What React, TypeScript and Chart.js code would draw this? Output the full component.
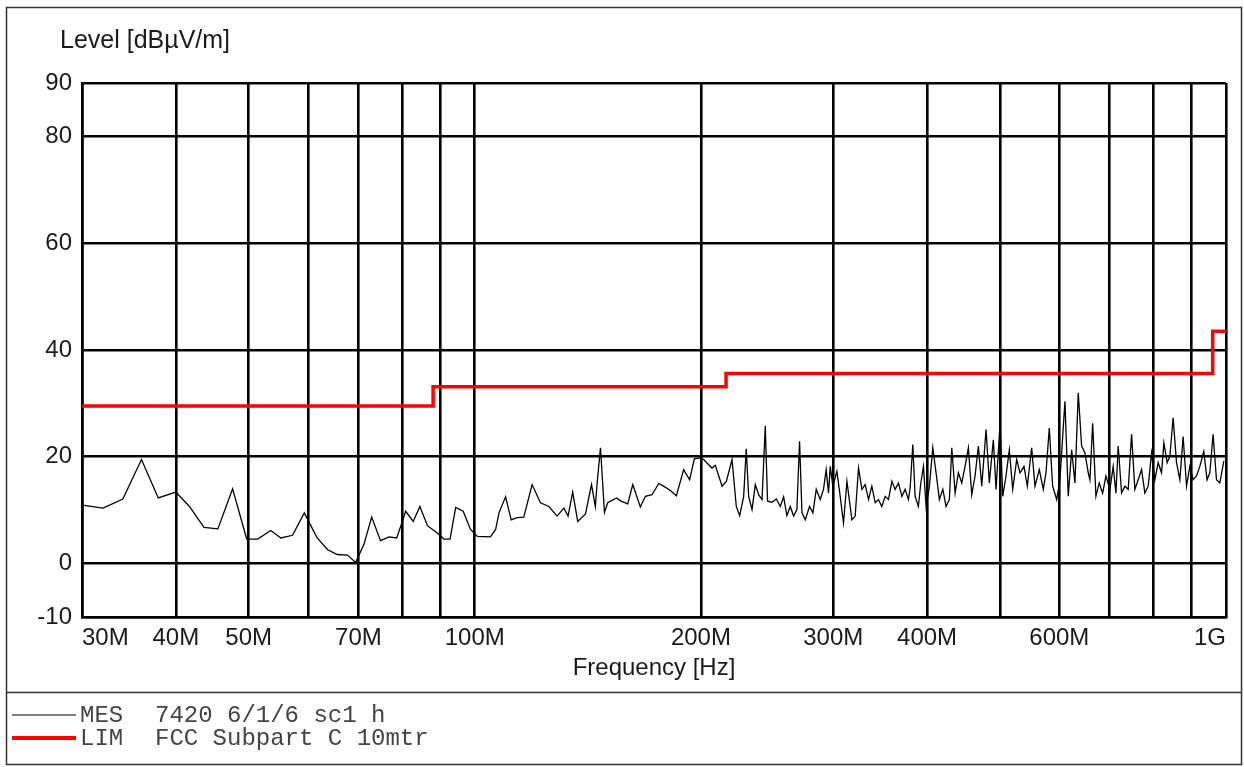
import React, { useEffect, useRef } from 'react';
import { Chart, registerables } from 'chart.js';

Chart.register(...registerables);

// ---- data (frequency in MHz, level in dBµV/m) ----
const mesFreqMHz = [
  30.2, 32.0, 34.0, 36.0, 37.9, 40.0, 41.7, 43.6, 45.5, 47.6, 49.7, 51.4, 53.5, 55.2, 57.2, 59.3,
  60.8, 61.7, 63.7, 65.6, 67.7, 69.4, 71.2, 72.9, 74.9, 76.9, 78.7, 80.1, 80.9, 82.8, 84.5, 86.5,
  89.2, 91.0, 92.7, 94.3, 96.5, 98.7, 100.8, 104.9, 106.6, 107.7, 109.9, 111.8, 113.9, 116.2, 119.2,
  122.3, 125.5, 128.7, 131.4, 133.1, 135.0, 137.1, 140.4, 143.0, 144.7, 145.5, 147.0, 148.8, 150.3,
  154.4, 156.6, 159.8, 162.3, 166.1, 168.7, 172.2, 175.7, 178.4, 182.1, 185.5, 189.7, 193.2, 196.0,
  199.7, 201.7, 204.8, 206.9, 209.0, 213.4, 216.2, 220.0, 222.9, 225.2, 228.0, 229.8, 231.5, 233.9,
  236.3, 238.7, 241.2, 243.6, 245.3, 248.7, 252.0, 255.1, 257.7, 260.3, 263.0, 265.7, 268.4, 270.6,
  272.6, 275.4, 279.0, 281.9, 284.8, 288.3, 291.2, 293.6, 295.7, 297.3, 299.7, 303.4, 306.5, 309.6,
  312.9, 317.7, 320.9, 324.2, 327.6, 330.9, 334.3, 337.7, 341.2, 344.6, 348.2, 351.8, 355.4, 359.1,
  362.7, 366.4, 370.3, 374.0, 377.8, 379.8, 382.9, 385.6, 389.5, 392.4, 395.6, 398.8, 402.9, 407.1,
  411.2, 415.4, 419.8, 424.0, 428.3, 431.5, 435.9, 440.3, 444.9, 449.4, 454.0, 458.7, 463.4, 468.1,
  473.0, 479.3, 484.1, 490.1, 494.2, 500.3, 504.4, 509.5, 514.7, 520.1, 526.5, 531.8, 538.4, 543.9,
  551.2, 556.8, 564.2, 571.2, 575.9, 581.8, 587.8, 595.1, 601.1, 610.4, 616.6, 623.1, 629.4, 635.8,
  642.4, 649.0, 655.6, 659.0, 664.5, 671.2, 678.0, 685.1, 692.1, 700.6, 707.7, 713.6, 718.6, 726.1,
  733.5, 741.0, 748.7, 756.3, 764.0, 772.0, 779.8, 787.8, 796.0, 804.1, 812.3, 820.7, 826.6, 835.0,
  841.9, 850.4, 859.3, 868.1, 876.9, 886.1, 895.0, 904.1, 913.6, 922.9, 934.2, 943.7, 951.6, 961.2,
  971.3, 981.2, 993.3,
];
const mesLevel = [
  10.9, 10.4, 12.1, 19.5, 12.3, 13.4, 10.7, 6.8, 6.5, 14.0, 4.6, 4.6, 6.2, 4.8, 5.3, 9.5,
  6.5, 4.8, 2.6, 1.7, 1.6, 0.2, 3.6, 8.7, 4.3, 5.0, 4.8, 7.9, 9.8, 7.9, 10.7, 7.1,
  5.7, 4.6, 4.6, 10.5, 9.8, 6.4, 5.1, 5.0, 6.4, 9.5, 12.5, 8.2, 8.6, 8.7, 14.8,
  11.4, 10.7, 8.9, 10.4, 8.9, 13.4, 7.9, 9.3, 14.8, 10.7, 15.1, 21.7, 9.6, 11.4,
  12.3, 11.7, 11.2, 14.8, 10.6, 12.6, 12.9, 15.0, 14.5, 13.7, 12.7, 17.6, 15.7, 19.6,
  19.8, 19.5, 18.5, 17.9, 18.4, 14.5, 15.4, 19.5, 10.7, 9.0, 12.6, 21.5, 12.6, 10.1,
  14.8, 12.9, 12.0, 25.8, 11.7, 11.5, 12.1, 10.7, 12.5, 9.0, 10.7, 8.9, 10.1, 22.9,
  9.5, 8.2, 10.7, 9.5, 13.9, 12.0, 13.9, 17.6, 13.2, 18.2, 14.5, 17.3, 12.6, 7.6,
  15.4, 8.2, 8.9, 17.9, 13.9, 14.8, 12.0, 14.5, 11.4, 12.0, 10.7, 12.6, 12.0, 15.4,
  13.9, 15.1, 12.6, 13.9, 12.0, 14.2, 22.3, 12.6, 10.7, 15.1, 18.2, 10.7, 14.5, 21.7,
  17.0, 12.0, 13.9, 10.7, 12.0, 21.7, 13.2, 17.0, 15.1, 18.2, 21.7, 12.9, 16.4, 22.0,
  14.5, 25.1, 15.1, 23.2, 13.9, 26.3, 12.6, 16.4, 21.3, 13.9, 19.5, 17.0, 18.2, 14.5,
  21.7, 14.5, 17.6, 13.9, 17.0, 25.4, 14.5, 12.0, 15.7, 30.4, 12.6, 21.3, 15.1, 32.0,
  22.0, 20.7, 17.0, 15.7, 26.3, 12.6, 15.1, 13.2, 16.4, 13.9, 18.2, 13.2, 22.0, 13.2,
  14.5, 13.9, 24.2, 13.9, 15.7, 17.6, 13.2, 14.5, 20.7, 15.7, 18.9, 17.0, 22.6, 18.9,
  20.1, 27.3, 18.9, 15.7, 23.8, 14.5, 18.2, 15.7, 16.4, 18.2, 21.0, 15.7, 17.0, 24.2,
  15.7, 15.1, 19.2,
];
const limFreqMHz = [30, 88, 216, 960, 1000];
const limLevel = [29.5, 33.1, 35.6, 43.5, 43.5];

const xTickValues = [30, 40, 50, 60, 70, 80, 90, 100, 200, 300, 400, 500, 600, 700, 800, 900, 1000];
const xTickLabels = ['30M', '40M', '50M', '', '70M', '', '', '100M', '200M', '300M', '400M', '', '600M', '', '', '', '1G'];
const yTickValues = [-10, 0, 20, 40, 60, 80, 90];

const yAxisTitle = 'Level [dBµV/m]';
const xAxisTitle = 'Frequency [Hz]';
const legendKeys = ['MES', 'LIM'];
const legendTexts = ['7420 6/1/6 sc1 h', 'FCC Subpart C 10mtr'];
const legendColors = ['#000000', '#ff0000'];
const legendWidths = [1, 4];

const SANS = '"Liberation Sans", Arial, sans-serif';
const MONO = '"Liberation Mono", "DejaVu Sans Mono", monospace';

const framePlugin = {
  id: 'frameAndLegend',
  afterDraw(chart: any) {
    const ctx = chart.ctx as CanvasRenderingContext2D;
    ctx.save();
    // outer frame and divider
    ctx.strokeStyle = '#333';
    ctx.lineWidth = 1.5;
    ctx.strokeRect(6.5, 7.5, 1235, 757);
    ctx.beginPath();
    ctx.moveTo(6.5, 692.5);
    ctx.lineTo(1241.5, 692.5);
    ctx.stroke();
    // y axis title
    ctx.fillStyle = '#1a1a1a';
    ctx.font = `25px ${SANS}`;
    ctx.textAlign = 'left';
    ctx.textBaseline = 'alphabetic';
    ctx.fillText(yAxisTitle, 60, 48);
    // legend
    legendKeys.forEach((key, i) => {
      const y = 715 + i * 23;
      ctx.strokeStyle = legendColors[i];
      ctx.lineWidth = legendWidths[i];
      ctx.beginPath();
      ctx.moveTo(12, y);
      ctx.lineTo(76, y);
      ctx.stroke();
      ctx.fillStyle = '#444';
      ctx.font = `24px ${MONO}`;
      ctx.textBaseline = 'middle';
      ctx.fillText(key, 80, y + 1);
      ctx.fillText(legendTexts[i], 155, y + 1);
    });
    ctx.restore();
  },
};

export default function App() {
  const ref = useRef<HTMLCanvasElement | null>(null);

  useEffect(() => {
    const canvas = ref.current;
    if (!canvas) return;
    const gridStyle = { color: '#000', lineWidth: 2.6, drawTicks: false };
    const borderStyle = { display: true, color: '#000', width: 2.6 };
    const chart = new Chart(canvas, {
      type: 'line',
      data: {
        datasets: [
          {
            label: 'LIM',
            data: limFreqMHz.map((f, i) => ({ x: f, y: limLevel[i] })),
            borderColor: '#ff0000',
            borderWidth: 3.5,
            stepped: 'before',
            pointRadius: 0,
            order: 0,
          },
          {
            label: 'MES',
            data: mesFreqMHz.map((f, i) => ({ x: f, y: mesLevel[i] })),
            borderColor: '#000',
            borderWidth: 1.3,
            pointRadius: 0,
            tension: 0,
            order: 1,
          },
        ],
      },
      options: {
        responsive: false,
        animation: false,
        devicePixelRatio: 1,
        layout: { padding: { top: 83, right: 18, bottom: 77, left: 0 } },
        plugins: {
          legend: { display: false },
          tooltip: { enabled: false },
          title: { display: false },
        },
        scales: {
          x: {
            type: 'logarithmic',
            min: 30,
            max: 1000,
            afterBuildTicks: (s: any) => {
              s.ticks = xTickValues.map((v) => ({ value: v }));
            },
            afterFit: (s: any) => {
              s.height = 73;
            },
            grid: gridStyle,
            border: borderStyle,
            ticks: {
              autoSkip: false,
              maxRotation: 0,
              minRotation: 0,
              align: 'inner',
              padding: 7,
              color: '#1a1a1a',
              font: { family: SANS, size: 24 },
              callback: (_v: any, i: number) => xTickLabels[i],
            },
            title: {
              display: true,
              text: xAxisTitle,
              color: '#1a1a1a',
              font: { family: SANS, size: 24 },
              padding: { top: 0, bottom: 7 },
            },
          },
          y: {
            type: 'linear',
            min: -10,
            max: 90,
            afterBuildTicks: (s: any) => {
              s.ticks = yTickValues.map((v) => ({ value: v }));
            },
            afterFit: (s: any) => {
              s.width = 82;
            },
            grid: gridStyle,
            border: borderStyle,
            ticks: {
              padding: 10,
              color: '#1a1a1a',
              font: { family: SANS, size: 24 },
            },
          },
        },
      } as any,
      plugins: [framePlugin],
    });
    return () => chart.destroy();
  }, []);

  return (
    <div style={{ position: 'absolute', left: 0, top: 0, width: 1244, height: 767, background: '#fff' }}>
      <canvas ref={ref} width={1244} height={767} style={{ display: 'block', width: 1244, height: 767 }} />
    </div>
  );
}
